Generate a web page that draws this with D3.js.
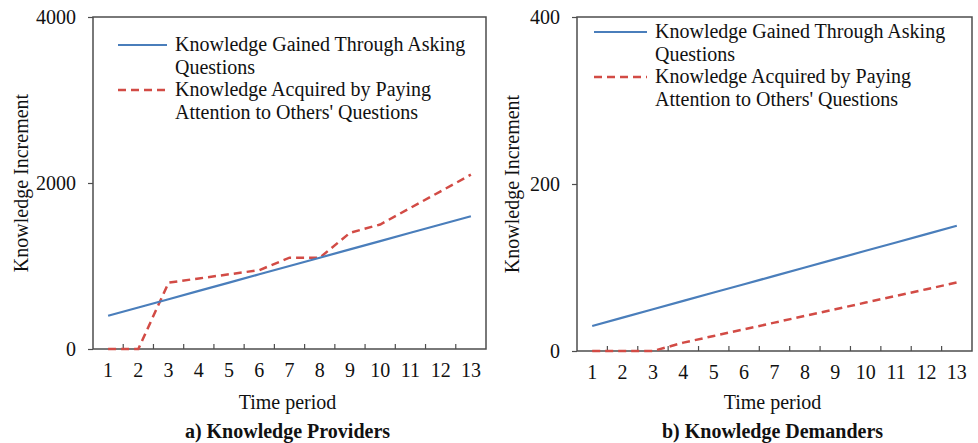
<!DOCTYPE html>
<html>
<head>
<meta charset="utf-8">
<script src="https://cdn.jsdelivr.net/npm/d3@7"></script>
<style>
  body { margin: 0; background: #fff; }
  svg { display: block; font-family: "Liberation Serif", "Times New Roman", serif; }
</style>
</head>
<body>
<svg width="978" height="443"></svg>
<script>
// data
var periods = [1, 2, 3, 4, 5, 6, 7, 8, 9, 10, 11, 12, 13];
var providersAsking = [400, 500, 600, 700, 800, 900, 1000, 1100, 1200, 1300, 1400, 1500, 1600];
var providersAttention = [0, 0, 800, 850, 900, 950, 1100, 1100, 1400, 1500, 1700, 1900, 2100];
var demandersAsking = [30, 40, 50, 60, 70, 80, 90, 100, 110, 120, 130, 140, 150];
var demandersAttention = [0, 0, 0, 10, 18, 26, 34, 42, 50, 58, 66, 74, 82];
var providersTicks = [0, 2000, 4000];
var demandersTicks = [0, 200, 400];
var seriesNames = ["Knowledge Gained Through Asking", "Knowledge Acquired by Paying Attention to Others' Questions"];
var legendLines = [["Knowledge Gained Through Asking", "Questions"], ["Knowledge Acquired by Paying", "Attention to Others' Questions"]];

var blue = "#4a7ebb", red = "#d24b45", frame = "#4d4d4d";

var svg = d3.select("svg");

var panels = [
  {left: 93, right: 486, top: 17, bottom: 349, ticks: providersTicks,
   asking: providersAsking, attention: providersAttention,
   titleX: 22, legX: 118, legLen: 49, legY: 45,
   caption: "a) Knowledge Providers"},
  {left: 577, right: 972, top: 17, bottom: 351, ticks: demandersTicks,
   asking: demandersAsking, attention: demandersAttention,
   titleX: 513, legX: 594, legLen: 53, legY: 32,
   caption: "b) Knowledge Demanders"}
];

panels.forEach(function(p) {
  var g = svg.append("g");

  var x = d3.scaleBand()
    .domain(periods)
    .range([p.left, p.right])
    .padding(0);

  var y = d3.scaleLinear()
    .domain([0, d3.max(p.ticks)])
    .range([p.bottom, p.top]);

  var cx = function(d, i) { return x(periods[i]) + x.bandwidth() / 2; };

  // y axis
  var yAxis = g.append("g")
    .attr("transform", "translate(" + p.left + ",0)")
    .call(d3.axisLeft(y).tickValues(p.ticks).tickSize(5).tickPadding(12).tickFormat(d3.format("d")));
  yAxis.select(".domain").remove();
  yAxis.selectAll("line").attr("stroke", frame).attr("stroke-width", 1.2);
  yAxis.selectAll("text")
    .attr("font-family", "Liberation Serif, serif")
    .attr("font-size", 20)
    .attr("fill", "#111");

  // x axis labels
  var xAxis = g.append("g")
    .attr("transform", "translate(0," + p.bottom + ")")
    .call(d3.axisBottom(x).tickSize(0).tickPadding(14));
  xAxis.select(".domain").remove();
  xAxis.selectAll("text")
    .attr("font-family", "Liberation Serif, serif")
    .attr("font-size", 20)
    .attr("fill", "#111");

  // inner ticks at category boundaries
  g.selectAll(".btick")
    .data(periods.slice(1))
    .enter().append("line")
      .attr("x1", function(d) { return x(d); })
      .attr("x2", function(d) { return x(d); })
      .attr("y1", p.bottom)
      .attr("y2", p.bottom - 5)
      .attr("stroke", frame)
      .attr("stroke-width", 1.2);

  // frame
  g.append("rect")
    .attr("x", p.left)
    .attr("y", p.top)
    .attr("width", p.right - p.left)
    .attr("height", p.bottom - p.top)
    .attr("fill", "none")
    .attr("stroke", frame)
    .attr("stroke-width", 1.5);

  var line = d3.line()
    .x(cx)
    .y(function(d) { return y(d); });

  g.append("path")
    .datum(p.attention)
    .attr("d", line)
    .attr("fill", "none")
    .attr("stroke", red)
    .attr("stroke-width", 2.5)
    .attr("stroke-dasharray", "8,5");

  g.append("path")
    .datum(p.asking)
    .attr("d", line)
    .attr("fill", "none")
    .attr("stroke", blue)
    .attr("stroke-width", 2.2);

  // legend
  var leg = g.append("g")
    .attr("font-size", 20)
    .attr("fill", "#111");
  legendLines.forEach(function(lines, i) {
    var ly = p.legY + i * 45;
    leg.append("line")
      .attr("x1", p.legX)
      .attr("x2", p.legX + p.legLen)
      .attr("y1", ly)
      .attr("y2", ly)
      .attr("stroke", i === 0 ? blue : red)
      .attr("stroke-width", i === 0 ? 2.2 : 2.5)
      .attr("stroke-dasharray", i === 0 ? null : "8,5");
    lines.forEach(function(t, j) {
      leg.append("text")
        .attr("x", p.legX + p.legLen + 8)
        .attr("y", ly + j * 22.5)
        .attr("dy", "0.32em")
        .text(t);
    });
  });

  // axis titles
  g.append("text")
    .attr("transform", "translate(" + p.titleX + "," + ((p.top + p.bottom) / 2) + ") rotate(-90)")
    .attr("text-anchor", "middle")
    .attr("dy", "0.32em")
    .attr("font-size", 20)
    .attr("fill", "#111")
    .text("Knowledge Increment");

  var mid = (p.left + p.right) / 2 - 2;
  g.append("text")
    .attr("x", mid)
    .attr("y", 409)
    .attr("text-anchor", "middle")
    .attr("font-size", 20)
    .attr("fill", "#111")
    .text("Time period");

  g.append("text")
    .attr("x", mid)
    .attr("y", 438)
    .attr("text-anchor", "middle")
    .attr("font-size", 20)
    .attr("font-weight", "bold")
    .attr("fill", "#111")
    .text(p.caption);
});
</script>
</body>
</html>
